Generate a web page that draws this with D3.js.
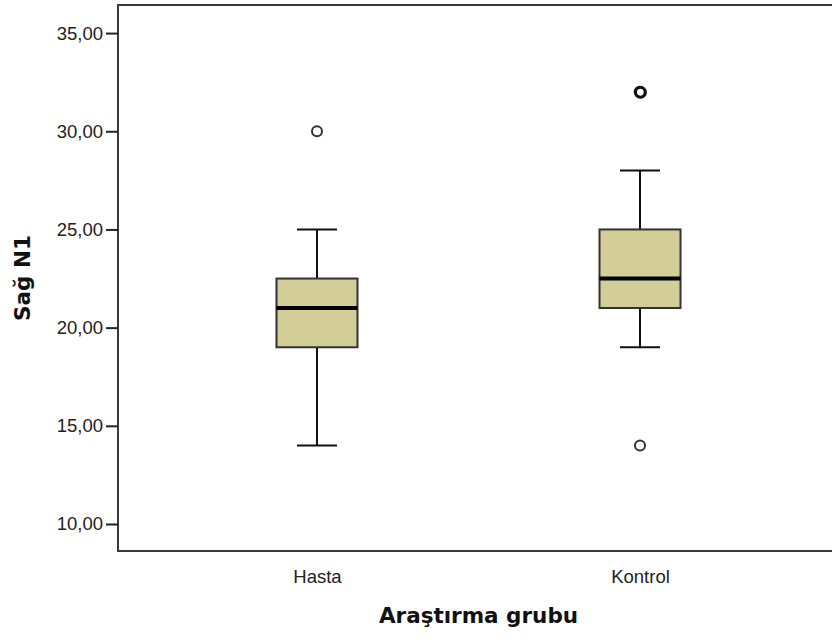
<!DOCTYPE html>
<html>
<head>
<meta charset="utf-8">
<script src="https://cdn.jsdelivr.net/npm/d3@7"></script>
<style>
  body { margin: 0; background: #fff; }
  svg { display: block; }
</style>
</head>
<body>
<div id="chart"></div>
<script>
var svgWidth = 832;
var svgHeight = 639;

// boxplot values per group
var groups = ["Hasta", "Kontrol"];
var whiskerLow = [14, 19];
var q1 = [19, 21];
var median = [21, 22.5];
var q3 = [22.5, 25];
var whiskerHigh = [25, 28];
var outliers = [[30], [32, 32, 14]];
var yTicks = [10, 15, 20, 25, 30, 35];

// plot frame (right edge falls outside the window)
var frame = { left: 118, right: 839, top: 5, bottom: 551 };

var svg = d3.select("#chart")
  .append("svg")
  .attr("width", svgWidth)
  .attr("height", svgHeight);

var xScale = d3.scalePoint()
  .domain(groups)
  .range([frame.left, frame.right])
  .padding(0.616);

var yScale = d3.scaleLinear()
  .domain([8.625, 36.43])
  .range([frame.bottom, frame.top]);

var boxW = 81;
var capW = 40;

var comma = d3.formatLocale({ decimal: ",", thousands: ".", grouping: [3], currency: ["", ""] }).format(".2f");

// frame
svg.append("path")
  .attr("d", `M${frame.right},${frame.top}H${frame.left}V${frame.bottom}H${frame.right}`)
  .attr("fill", "none")
  .attr("stroke", "#3a3a3a")
  .attr("stroke-width", 2);

// y axis
var yAxis = svg.append("g")
  .attr("transform", `translate(${frame.left}, 0)`)
  .call(d3.axisLeft(yScale).tickValues(yTicks).tickFormat(comma).tickSize(12).tickPadding(3));
yAxis.select(".domain").remove();
yAxis.selectAll(".tick line").attr("stroke", "#222").attr("stroke-width", 2);
yAxis.selectAll(".tick text")
  .attr("fill", "#222")
  .style("font-family", "'Liberation Sans', Arial, sans-serif")
  .style("font-size", "18.5px");

// x axis labels
var xAxis = svg.append("g")
  .attr("transform", `translate(0, ${frame.bottom})`)
  .call(d3.axisBottom(xScale).tickSize(0).tickPadding(19));
xAxis.select(".domain").remove();
xAxis.selectAll(".tick text")
  .attr("fill", "#222")
  .style("font-family", "'Liberation Sans', Arial, sans-serif")
  .style("font-size", "18.5px");

var data = groups.map((g, i) => ({
  g: g, lo: whiskerLow[i], q1: q1[i], med: median[i], q3: q3[i], hi: whiskerHigh[i], out: outliers[i]
}));

var boxes = svg.selectAll(".box")
  .data(data)
  .enter()
  .append("g")
  .classed("box", true)
  .attr("transform", d => `translate(${xScale(d.g)}, 0)`);

// whiskers
boxes.append("line")
  .attr("x1", 0).attr("x2", 0)
  .attr("y1", d => yScale(d.hi)).attr("y2", d => yScale(d.q3))
  .attr("stroke", "#111").attr("stroke-width", 2);
boxes.append("line")
  .attr("x1", 0).attr("x2", 0)
  .attr("y1", d => yScale(d.q1)).attr("y2", d => yScale(d.lo))
  .attr("stroke", "#111").attr("stroke-width", 2);
boxes.append("line")
  .attr("x1", -capW / 2).attr("x2", capW / 2)
  .attr("y1", d => yScale(d.hi)).attr("y2", d => yScale(d.hi))
  .attr("stroke", "#111").attr("stroke-width", 2);
boxes.append("line")
  .attr("x1", -capW / 2).attr("x2", capW / 2)
  .attr("y1", d => yScale(d.lo)).attr("y2", d => yScale(d.lo))
  .attr("stroke", "#111").attr("stroke-width", 2);

// box
boxes.append("rect")
  .attr("x", -boxW / 2)
  .attr("width", boxW)
  .attr("y", d => yScale(d.q3))
  .attr("height", d => yScale(d.q1) - yScale(d.q3))
  .attr("fill", "#d3ce97")
  .attr("stroke", "#333")
  .attr("stroke-width", 2);

// median
boxes.append("line")
  .attr("x1", -boxW / 2).attr("x2", boxW / 2)
  .attr("y1", d => yScale(d.med)).attr("y2", d => yScale(d.med))
  .attr("stroke", "#000").attr("stroke-width", 4);

// outliers (repeated values overlap and look heavier)
boxes.selectAll("circle")
  .data(d => d.out.map((v, j) => ({ v: v, j: j, dup: d.out.filter(o => o === v).length > 1 })))
  .enter()
  .append("circle")
  .attr("cx", d => d.j === 1 ? 0.6 : 0)
  .attr("cy", d => yScale(d.v) + (d.j === 1 ? 0.4 : 0))
  .attr("r", 5)
  .attr("fill", "none")
  .attr("stroke", d => d.dup ? "#111" : "#333")
  .attr("stroke-width", d => d.dup ? 2.6 : 2);

// axis titles
svg.append("text")
  .attr("x", (frame.left + frame.right) / 2)
  .attr("y", 623)
  .attr("text-anchor", "middle")
  .attr("fill", "#111")
  .style("font-family", "'DejaVu Sans', Verdana, sans-serif")
  .style("font-weight", "bold")
  .style("font-size", "21.5px")
  .text("Araştırma grubu");

svg.append("text")
  .attr("transform", `translate(30, ${(frame.top + frame.bottom) / 2}) rotate(-90)`)
  .attr("text-anchor", "middle")
  .attr("fill", "#111")
  .style("font-family", "'DejaVu Sans', Verdana, sans-serif")
  .style("font-weight", "bold")
  .style("font-size", "21.5px")
  .text("Sağ N1");
</script>
</body>
</html>
